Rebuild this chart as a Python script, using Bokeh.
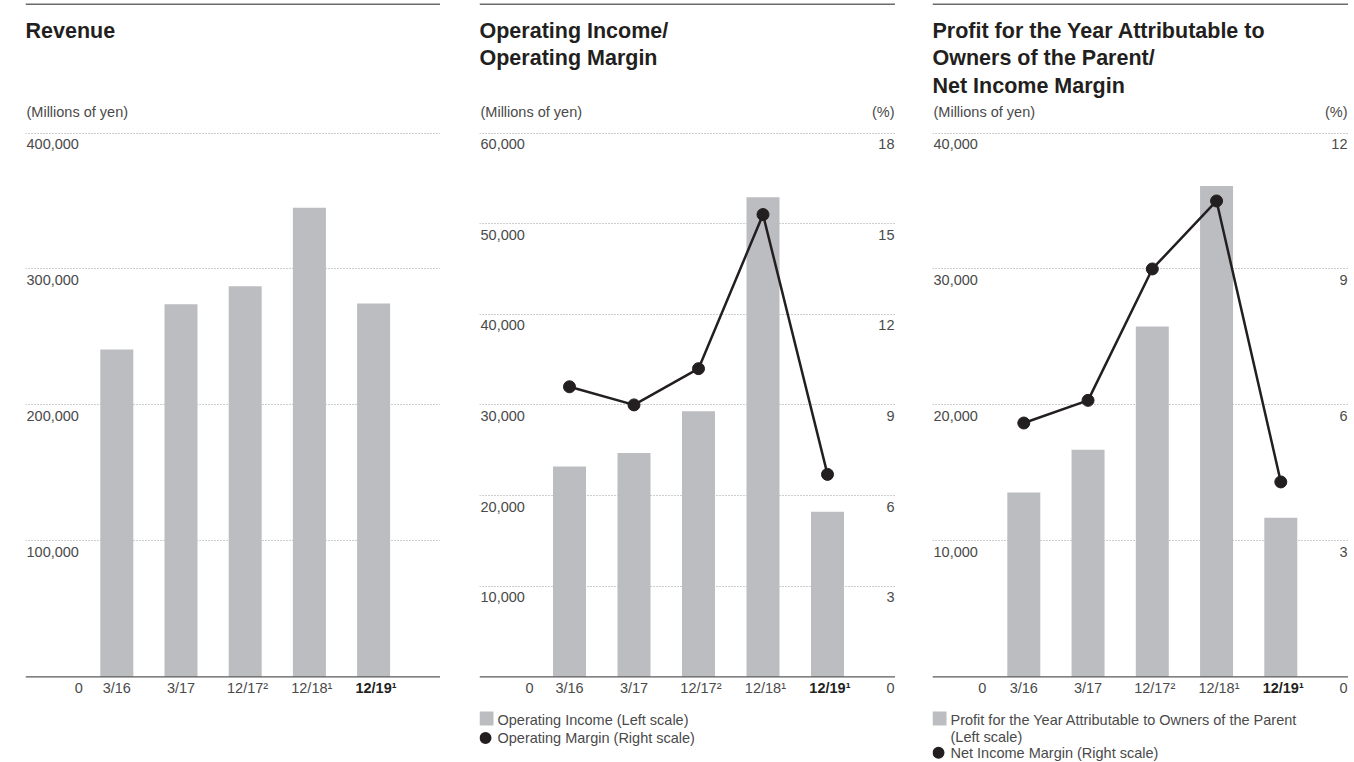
from bokeh.plotting import figure
from bokeh.models import Range1d, Grid, FixedTicker, Span, Spacer
from bokeh.layouts import row
from bokeh.embed import file_html
from bokeh.resources import INLINE
from bokeh.core.properties import value

# ---------------- data ----------------
periods = ["3/16", "3/17", "12/17", "12/18", "12/19"]
period_notes = ["", "", "\u00b2", "\u00b9", "\u00b9"]

revenue = [240700, 274000, 287200, 345100, 274500]
operating_income = [23200, 24700, 29300, 52900, 18200]
operating_margin = [9.6, 9.0, 10.2, 15.3, 6.7]
profit_owners = [13550, 16700, 25760, 36100, 11700]
net_income_margin = [5.6, 6.1, 9.0, 10.5, 4.3]

rev_ticks = [100000, 200000, 300000, 400000]
rev_tick_labels = ["100,000", "200,000", "300,000", "400,000"]
oi_ticks = [10000, 20000, 30000, 40000, 50000, 60000]
oi_tick_labels = ["10,000", "20,000", "30,000", "40,000", "50,000", "60,000"]
om_ticks = [3, 6, 9, 12, 15, 18]
om_tick_labels = ["3", "6", "9", "12", "15", "18"]
pr_ticks = [10000, 20000, 30000, 40000]
pr_tick_labels = ["10,000", "20,000", "30,000", "40,000"]
nm_ticks = [3, 6, 9, 12]
nm_tick_labels = ["3", "6", "9", "12"]

title_rev = ["Revenue"]
title_oi = ["Operating Income/", "Operating Margin"]
title_pr = ["Profit for the Year Attributable to", "Owners of the Parent/", "Net Income Margin"]
unit_left = "(Millions of yen)"
unit_right = "(%)"
legend_oi = [("square", "Operating Income (Left scale)"), ("circle", "Operating Margin (Right scale)")]
legend_pr = [("square", "Profit for the Year Attributable to Owners of the Parent"),
             (None, "(Left scale)"),
             ("circle", "Net Income Margin (Right scale)")]

# ---------------- style / layout ----------------
FONT = value("Liberation Sans")
TXT = "#4a4a4a"
DARK = "#231f20"
BAR = "#bcbdc0"
H = 762
Y_ZERO = 676.3
Y_TOP = 132.5
LBL_DROP = 16.3       # baseline of tick labels below their line, px
FS = 14.5             # regular font size, px
FS_T = 21.5           # title font size, px
BASE_FIX = 0.36       # renderer puts text lower than the baseline by ~this * size


def panel(width, left, c0, step, ymax, ticks, tick_labels, bars, title_lines, zero_cx,
          rmax=None, rticks=None, rtick_labels=None, line=None, legend=None, legend_y=None):
    scale = (Y_ZERO - Y_TOP) / ymax
    yd = lambda pg: (Y_ZERO - pg) / scale
    xd = lambda px: (px - c0) / step
    right = left + width
    p = figure(width=width, height=H, title=None,
               x_range=Range1d(xd(left), xd(right)),
               y_range=Range1d(yd(H), yd(0)),
               x_axis_location=None, y_axis_location=None,
               toolbar_location=None, output_backend="svg",
               min_border=0, outline_line_color=None)
    p.min_border_left = p.min_border_right = p.min_border_top = p.min_border_bottom = 0
    p.background_fill_color = "white"
    p.border_fill_color = "white"
    p.center = []  # drop default grids

    rscale = None
    if rmax is not None:
        rscale = (Y_ZERO - Y_TOP) / rmax
        ydr = lambda pg: (Y_ZERO - pg) / rscale
        p.extra_y_ranges = {"r": Range1d(ydr(H), ydr(0))}

    def text(xs, ys, texts, size=FS, align="left", color=TXT, style="normal", rname="default", sc=None):
        # ys are data values; shift up so the visible baseline lands where intended
        s = sc if sc is not None else scale
        fix = BASE_FIX * size / s
        p.text(x=xs, y=[y + fix for y in ys], text=texts, text_font=FONT, text_font_size=f"{size}px",
               text_align=align, text_baseline="alphabetic", text_color=color,
               text_font_style=style, y_range_name=rname)

    # top rule
    p.add_layout(Span(location=yd(3.8), dimension="width", line_color="#6b6b6b", line_width=1.6))
    # dotted grid
    p.add_layout(Grid(dimension=1, ticker=FixedTicker(ticks=ticks), grid_line_color="#9a9a9a",
                      grid_line_dash="1 2", grid_line_width=1))

    idx = list(range(len(periods)))
    p.vbar(x=idx, top=bars, bottom=0, width=33 / step, fill_color=BAR, line_color=None)
    # baseline
    p.add_layout(Span(location=0, dimension="width", line_color="#5a5a5a", line_width=1.2))

    if line is not None:
        p.line(idx, line, line_color=DARK, line_width=2.5, y_range_name="r")
        p.scatter(idx, line, size=12, marker="circle", fill_color=DARK, line_color=DARK, y_range_name="r")

    # titles
    text([xd(left)] * len(title_lines), [yd(37.8 + 27.7 * k) for k in range(len(title_lines))],
         title_lines, size=FS_T, color=DARK, style="bold")
    text([xd(left + 1)], [yd(116.5)], [unit_left])
    if rmax is not None:
        text([xd(right - 1)], [yd(116.5)], [unit_right], align="right")

    # tick labels
    text([xd(left + 1)] * len(ticks), [t - LBL_DROP / scale for t in ticks], tick_labels)
    text([xd(zero_cx)], [0 - LBL_DROP / scale], ["0"], align="center")
    if rmax is not None:
        text([xd(right - 1)] * len(rticks), [t - LBL_DROP / rscale for t in rticks],
             rtick_labels, align="right", rname="r", sc=rscale)
        text([xd(right - 1)], [0 - LBL_DROP / rscale], ["0"], align="right", rname="r", sc=rscale)

    # category labels
    labels = [a + b for a, b in zip(periods, period_notes)]
    shift = [(2.4 / step if n else 0.0) for n in period_notes]
    xl = [i + s for i, s in zip(idx, shift)]
    yl = 0 - LBL_DROP / scale
    text(xl[:-1], [yl] * (len(idx) - 1), labels[:-1], align="center")
    text(xl[-1:], [yl], labels[-1:], align="center", color=DARK, style="bold")

    # legend
    if legend is not None:
        for (kind, t), bl in zip(legend, legend_y):
            if kind == "square":
                p.scatter([xd(left + 7)], [yd(bl - 6.8)], marker="square", size=14, fill_color=BAR, line_color=None)
            elif kind == "circle":
                p.scatter([xd(left + 6)], [yd(bl - 5.2)], marker="circle", size=12, fill_color=DARK, line_color=None)
            text([xd(left + 18)], [yd(bl)], [t])
    return p


p1 = panel(415, 25, 116.3, 64.2, 400000, rev_ticks, rev_tick_labels, revenue, title_rev, 78.3)
p2 = panel(416, 479, 569.0, 64.5, 60000, oi_ticks, oi_tick_labels, operating_income, title_oi, 529.0,
           rmax=18, rticks=om_ticks, rtick_labels=om_tick_labels, line=operating_margin,
           legend=legend_oi, legend_y=[724.8, 742.8])
p3 = panel(416, 932, 1023.3, 64.25, 40000, pr_ticks, pr_tick_labels, profit_owners, title_pr, 981.7,
           rmax=12, rticks=nm_ticks, rtick_labels=nm_tick_labels, line=net_income_margin,
           legend=legend_pr, legend_y=[724.8, 741.8, 757.5])

layout = row(Spacer(width=25, height=H), p1, Spacer(width=39, height=H), p2,
             Spacer(width=37, height=H), p3, Spacer(width=6, height=H))

open("out.html", "w").write(file_html(layout, INLINE))
